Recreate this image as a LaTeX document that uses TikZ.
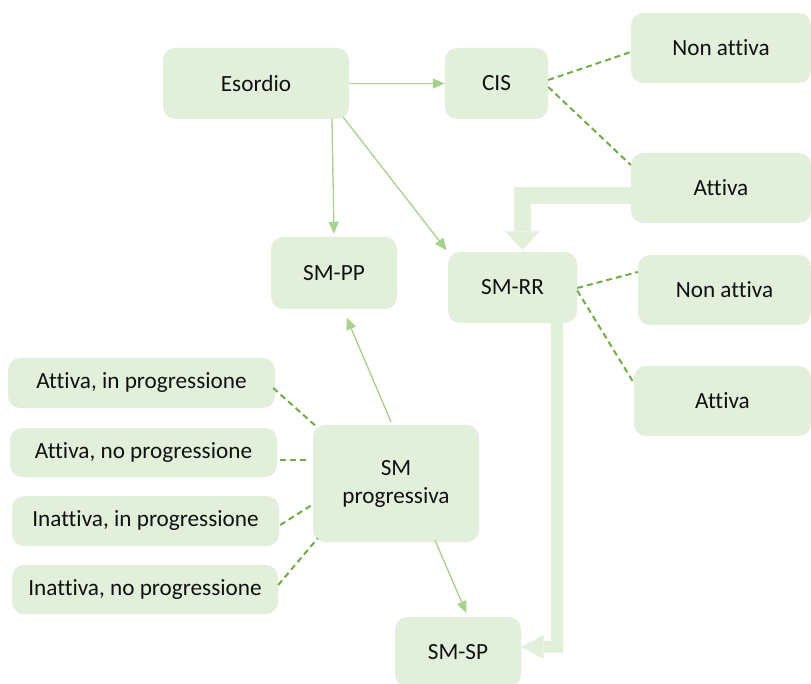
\documentclass[tikz,border=0pt]{standalone}
\usepackage{fontspec}
\setmainfont{Carlito}[RawFeature={-liga;-clig;-calt;-dlig}]
\usetikzlibrary{arrows.meta,calc}
\definecolor{boxfill}{HTML}{E2EFDA}
\definecolor{thinline}{HTML}{A9D18E}
\definecolor{dashline}{HTML}{70AD47}
\definecolor{txt}{HTML}{111111}
\begin{document}
\begin{tikzpicture}[x=1pt,y=-1pt,
  box/.style={rectangle,rounded corners=12pt,fill=boxfill,draw=none,text=txt,
    font=\fontsize{23.2}{28}\selectfont,inner sep=0pt,align=center},
  thinarrow/.style={draw=thinline,line width=1.3pt,-{Triangle[width=10pt,length=12pt]},fill=thinline},
  dashconn/.style={draw=dashline,line width=2pt,dash pattern=on 6pt off 4pt},
  bigshaft/.style={draw=boxfill,line join=miter},
  bighead/.style={fill=boxfill}
]
\useasboundingbox (0,0) rectangle (811,684);
\fill[white] (0,0) rectangle (811,684);

\node[box,minimum width=186pt,minimum height=71pt] (esordio) at (256,83.5) {Esordio};
\node[box,minimum width=103pt,minimum height=71pt] (cis) at (496.5,83.5) {CIS};
\node[box,minimum width=180pt,minimum height=70pt] (na1) at (721,48) {Non attiva};
\node[box,minimum width=180pt,minimum height=70pt] (at1) at (721,188) {Attiva};
\node[box,minimum width=126pt,minimum height=72pt] (smpp) at (334,273) {SM-PP};
\node[box,minimum width=129pt,minimum height=71pt] (smrr) at (512.5,287.5) {SM-RR};
\node[box,minimum width=173pt,minimum height=70pt] (na2) at (724.5,290) {Non attiva};
\node[box,minimum width=177pt,minimum height=70pt] (at2) at (722.5,401) {Attiva};
\node[box,minimum width=267pt,minimum height=50pt] (l1) at (141.5,383) {Attiva, in progressione};
\node[box,minimum width=267pt,minimum height=49pt] (l2) at (143.5,452.5) {Attiva, no progressione};
\node[box,minimum width=267pt,minimum height=50pt] (l3) at (145.5,521) {Inattiva, in progressione};
\node[box,minimum width=266pt,minimum height=49pt] (l4) at (145,589.5) {Inattiva, no progressione};
\node[box,minimum width=166pt,minimum height=117pt] (smprog) at (396,483.5) {SM\\progressiva};
\node[box,minimum width=126pt,minimum height=70pt] (smsp) at (458,652) {SM-SP};

% thin arrows
\draw[thinarrow] (esordio) -- (cis);
\draw[thinarrow,shorten >=3pt] ($(esordio.south)+(76,0)$) -- (smpp.north);
\draw[thinarrow,shorten >=2pt] ($(esordio.south east)+(-6,-2)$) -- (smrr.north west);
\draw[thinarrow,shorten >=9pt] ($(smprog.north)+(-5,-3)$) -- ($(smpp.south)+(9,0)$);
\draw[thinarrow,shorten >=4pt] ($(smprog.south)+(39,-2)$) -- ($(smsp.north)+(10,0)$);

% dashed connectors
\draw[dashconn] ($(cis.east)+(0,-3.5)$) -- ($(na1.west)+(0,4)$);
\draw[dashconn] ($(cis.east)+(0,3.5)$) -- ($(at1.west)+(0,-23)$);
\draw[dashconn] ($(smrr.east)+(0,0.5)$) -- ($(na2.west)+(0,-18)$);
\draw[dashconn] ($(smrr.east)+(0,3)$) -- ($(at2.west)+(0,-18)$);
\draw[dashconn] ($(l1.east)+(-2,5)$) -- ($(smprog.north west)+(5,3)$);
\draw[dashconn] ($(l2.east)+(3,7.5)$) -- ($(smprog.west)+(-3,-23.5)$);
\draw[dashconn] ($(l3.east)+(1,4)$) -- ($(smprog.west)+(-1,21.5)$);
\draw[dashconn] ($(l4.east)+(0,-4.5)$) -- ($(smprog.south west)+(5,-4)$);

% thick block arrows
\draw[bigshaft,line width=17pt] ($(at1.west)+(0,7.5)$) -| ($(smrr.north)+(10,-20.5)$);
\fill[bighead] ($(smrr.north)+(10,-2)$) -- ++(-17.5,-18.5) -- ++(35,0) -- cycle;
\draw[bigshaft,line width=12pt] ($(smrr.south)+(44.5,0)$) |- ($(smsp.east)+(22.5,-5)$);
\fill[bighead] (smsp.east) ++(0,-5) -- ++(22.5,-12) -- ++(0,24) -- cycle;
\end{tikzpicture}
\end{document}
